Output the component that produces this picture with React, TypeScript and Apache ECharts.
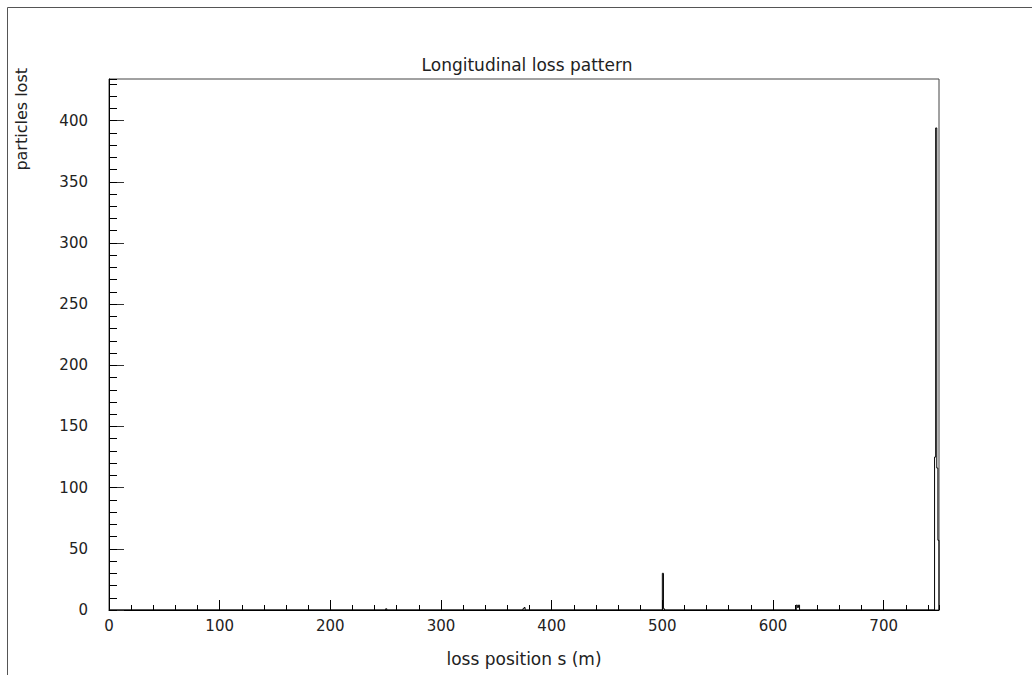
import React, { useEffect, useRef } from "react";
import * as echarts from "echarts";

// Histogram bins (left edge in m, width 1 m) and particle counts
const binStart = [250, 374, 375, 500, 501, 621, 622, 623, 746, 747, 748, 749];
const binCount = [1, 1, 2, 30, 1, 4, 2, 4, 125, 394, 116, 57];
const binWidth = 1;

const xMin = 0;
const xMax = 750;
const yMin = 0;
const yMax = 434;
const xMajorStep = 100;
const xMinorStep = 20;
const yMajorStep = 50;
const yMinorStep = 10;

const titleText = "Longitudinal loss pattern";
const xName = "loss position s (m)";
const yName = "particles lost";

const FONT = "DejaVu Sans";

function buildOutline(): number[][] {
  const pts: number[][] = [];
  let prevEnd = xMin;
  binStart.forEach((s, i) => {
    if (s !== prevEnd || pts.length === 0) pts.push([prevEnd, 0]);
    pts.push([s, binCount[i]]);
    prevEnd = s + binWidth;
  });
  pts.push([prevEnd, 0]);
  return pts;
}

export default function App() {
  const ref = useRef<HTMLDivElement>(null);

  useEffect(() => {
    if (!ref.current) return;
    const chart = echarts.init(ref.current, null, { renderer: "svg" });
    const labelStyle = { fontFamily: FONT, fontSize: 15, color: "#222" };
    chart.setOption({
      animation: false,
      backgroundColor: "#fff",
      title: {
        text: titleText,
        left: 522,
        top: 51,
        textAlign: "center",
        textStyle: { fontFamily: FONT, fontSize: 17, fontWeight: "normal", color: "#222" },
      },
      grid: {
        left: 109,
        right: 93,
        top: 79,
        bottom: 65,
        show: true,
        borderColor: "#444",
        borderWidth: 1,
        backgroundColor: "transparent",
      },
      xAxis: [
        {
          type: "value",
          min: xMin,
          max: xMax,
          interval: xMajorStep,
          position: "bottom",
          axisLine: { show: true, onZero: false, lineStyle: { color: "#000", width: 1 } },
          axisTick: { show: true, inside: true, length: 10, lineStyle: { color: "#000" } },
          axisLabel: { ...labelStyle, margin: 8, showMaxLabel: false },
          splitLine: { show: false },
          name: xName,
          nameLocation: "middle",
          nameGap: 40,
          nameTextStyle: { fontFamily: FONT, fontSize: 17, color: "#222" },
        },
        {
          type: "value",
          min: xMin,
          max: xMax,
          interval: xMinorStep,
          position: "bottom",
          axisLine: { show: false, onZero: false },
          axisTick: { show: true, inside: true, length: 5, lineStyle: { color: "#000" } },
          axisLabel: { show: false },
          splitLine: { show: false },
        },
      ],
      yAxis: [
        {
          type: "value",
          min: yMin,
          max: yMax,
          interval: yMajorStep,
          position: "left",
          axisLine: { show: true, onZero: false, lineStyle: { color: "#000", width: 1 } },
          axisTick: { show: true, inside: true, length: 15, lineStyle: { color: "#333" } },
          axisLabel: { ...labelStyle, margin: 21, showMaxLabel: false },
          splitLine: { show: false },
        },
        {
          type: "value",
          min: yMin,
          max: yMax,
          interval: yMinorStep,
          position: "left",
          axisLine: { show: false, onZero: false },
          axisTick: { show: true, inside: true, length: 8, lineStyle: { color: "#000" } },
          axisLabel: { show: false },
          splitLine: { show: false },
        },
      ],
      series: [
        {
          type: "line",
          xAxisIndex: 0,
          yAxisIndex: 0,
          step: "end",
          symbol: "none",
          showSymbol: false,
          clip: true,
          lineStyle: { color: "#000", width: 1 },
          data: buildOutline(),
        },
      ],
      graphic: [
        {
          type: "line",
          shape: { x1: 7.5, y1: 7.5, x2: 1032, y2: 7.5 },
          style: { stroke: "#555", lineWidth: 1 },
          silent: true,
        },
        {
          type: "line",
          shape: { x1: 7.5, y1: 7.5, x2: 7.5, y2: 675 },
          style: { stroke: "#555", lineWidth: 1 },
          silent: true,
        },
        {
          type: "text",
          x: 13,
          y: 68,
          rotation: Math.PI / 2,
          style: {
            text: yName,
            align: "right",
            textAlign: "right",
            verticalAlign: "top",
            textVerticalAlign: "top",
            fontFamily: FONT,
            fontSize: 16,
            fill: "#222",
          },
          silent: true,
        },
      ],
    });
    return () => chart.dispose();
  }, []);

  return (
    <div
      ref={ref}
      style={{ position: "absolute", left: 0, top: 0, width: 1032, height: 675 }}
    />
  );
}
